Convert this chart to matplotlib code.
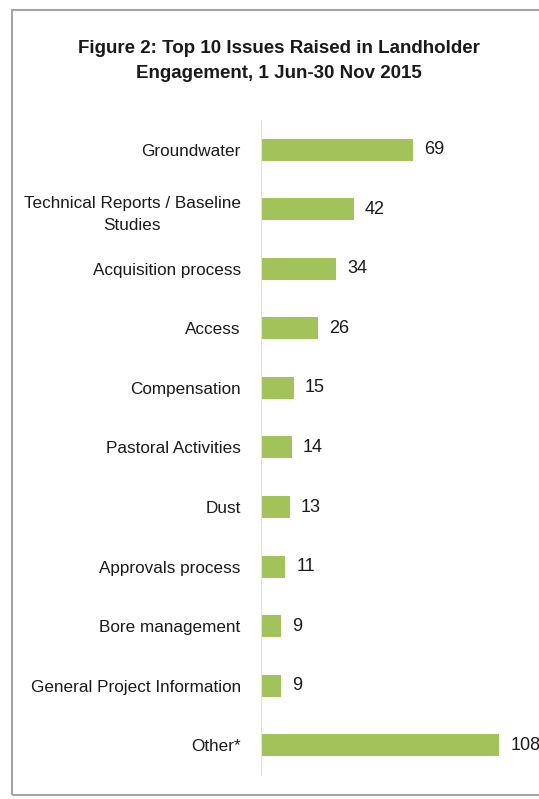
import matplotlib.pyplot as plt
from matplotlib.patches import Rectangle

issues = ["Groundwater", "Technical Reports / Baseline\nStudies", "Acquisition process",
          "Access", "Compensation", "Pastoral Activities", "Dust", "Approvals process",
          "Bore management", "General Project Information", "Other*"]
counts = [69, 42, 34, 26, 15, 14, 13, 11, 9, 9, 108]

plt.rcParams['font.family'] = ['Liberation Sans Narrow', 'Liberation Sans', 'DejaVu Sans']

fig = plt.figure(figsize=(5.39, 7.99), dpi=100)
ax = fig.add_axes([0.484, 0.030, 0.500, 0.820])

ypos = list(range(len(issues)))
ax.barh(ypos, counts, height=0.37, color='#a2c25a')
ax.set_ylim(len(issues) - 0.5, -0.5)
ax.set_xlim(0, 122)
ax.set_yticks(ypos)
ax.set_yticklabels(issues, fontsize=12.3, color='#1a1a1a', linespacing=1.6)
for lab in ax.get_yticklabels():
    lab.set_multialignment('center')
ax.tick_params(axis='y', length=0, pad=14.5)
ax.set_xticks([])
for s in ['top', 'right', 'bottom']:
    ax.spines[s].set_visible(False)
ax.spines['left'].set_color('#e2e2e2')

for y, c in zip(ypos, counts):
    ax.text(c + 5, y, str(c), va='center', ha='left', fontsize=13, color='#1a1a1a')

fig.text(0.517, 0.924, "Figure 2: Top 10 Issues Raised in Landholder\nEngagement, 1 Jun-30 Nov 2015",
         ha='center', va='center', fontsize=13.5, fontweight='bold', color='#1a1a1a',
         linespacing=1.6)

fig.patches.append(Rectangle((12 / 539, 4 / 799), 1.2, 1 - 14 / 799, transform=fig.transFigure,
                             fill=False, edgecolor='#a5a5a5', linewidth=1.5))

fig.savefig("out.png", dpi=100)
